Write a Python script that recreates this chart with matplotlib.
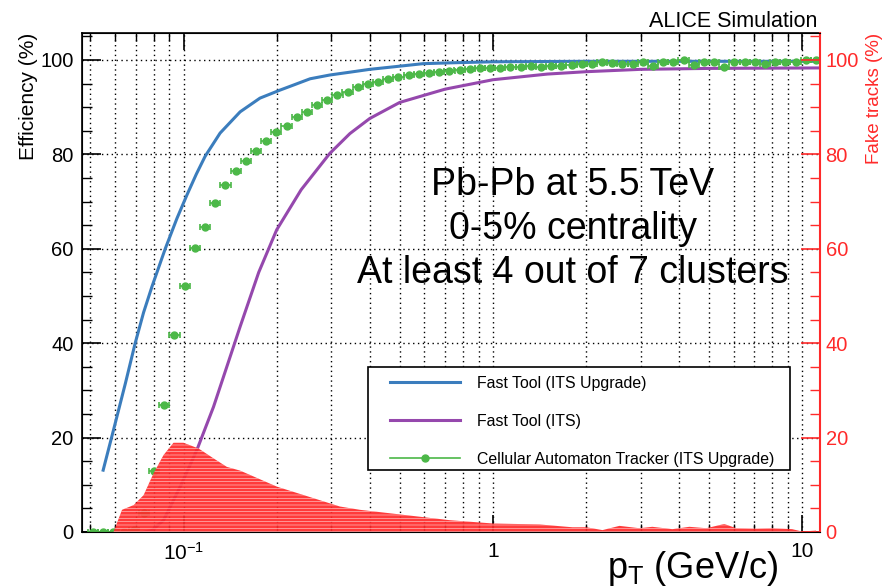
import numpy as np
import matplotlib.pyplot as plt
from matplotlib.lines import Line2D
from matplotlib.patches import Rectangle

plt.rcParams['font.family'] = ['Liberation Sans', 'DejaVu Sans']
plt.rcParams['mathtext.fontset'] = 'custom'
plt.rcParams['mathtext.rm'] = 'Liberation Sans'
plt.rcParams['mathtext.it'] = 'Liberation Sans:italic'
plt.rcParams['hatch.linewidth'] = 0.35
plt.rcParams['hatch.color'] = 'white'

# --- Cellular Automaton Tracker (ITS Upgrade) ---
ca_pt = [0.0510, 0.0550, 0.0594, 0.0640, 0.0691, 0.0745, 0.0804, 0.0867, 0.0935, 0.1009,
         0.1088, 0.1174, 0.1266, 0.1366, 0.1474, 0.1590, 0.1715, 0.1849, 0.1995, 0.2152,
         0.2321, 0.2504, 0.2701, 0.2913, 0.3143, 0.3390, 0.3657, 0.3945, 0.4255, 0.4590,
         0.4951, 0.5341, 0.5761, 0.6214, 0.6703, 0.7231, 0.7800, 0.8414, 0.9076, 0.9790,
         1.0561, 1.1392, 1.2288, 1.3255, 1.4298, 1.5423, 1.6637, 1.7947, 1.9359, 2.0883,
         2.2526, 2.4299, 2.6212, 2.8275, 3.0500, 3.2900, 3.5489, 3.8282, 4.1295, 4.4545,
         4.8051, 5.1833, 5.5912, 6.0313, 6.5060, 7.0180, 7.5703, 8.1661, 8.8088, 9.5021,
         10.25, 11.06]
ca_eff = [0.0, 0.0, 0.0, 0.0, 0.5, 4.0, 13.0, 26.9, 41.7, 52.1,
          60.1, 64.7, 69.6, 73.4, 76.5, 78.6, 80.6, 82.8, 84.7, 86.0,
          87.8, 89.0, 90.5, 91.5, 92.6, 93.3, 94.2, 94.8, 95.4, 95.9,
          96.3, 96.7, 97.0, 97.3, 97.5, 97.7, 97.9, 98.0, 98.2, 98.2,
          98.2, 98.4, 98.4, 98.7, 98.6, 98.7, 98.7, 98.9, 99.2, 99.2,
          99.5, 99.3, 99.2, 99.2, 99.5, 98.7, 99.5, 99.5, 99.9, 98.9,
          99.5, 99.5, 98.4, 99.5, 99.5, 99.5, 99.2, 99.5, 99.5, 99.6,
          99.9, 99.9]

# --- Fast Tool (ITS Upgrade) ---
fu_pt = [0.055, 0.0594, 0.0649, 0.0698, 0.0743, 0.0791, 0.0873, 0.0952, 0.1026, 0.11,
         0.1175, 0.1313, 0.1524, 0.1766, 0.205, 0.221, 0.2565, 0.297, 0.345, 0.40,
         0.488, 0.594, 0.75, 1.0, 2.0, 5.0, 11.4]
fu_eff = [13.1, 21.6, 31.5, 40.0, 46.5, 52.0, 60.0, 66.4, 71.4, 75.8,
          79.6, 84.5, 89.0, 91.9, 93.6, 94.4, 96.0, 96.8, 97.4, 98.0,
          98.6, 99.2, 99.4, 99.6, 99.7, 99.7, 99.7]

# --- Fast Tool (ITS) ---
fi_pt = [0.075, 0.079, 0.0862, 0.0976, 0.1105, 0.125, 0.1524, 0.175, 0.2, 0.24,
         0.297, 0.345, 0.40, 0.5, 0.7, 1.0, 1.5, 2.0, 3.0, 5.0, 11.4]
fi_eff = [0.0, 0.3, 2.5, 9.6, 17.4, 26.5, 43.5, 55.0, 64.0, 72.5,
          80.2, 84.4, 87.6, 91.0, 93.8, 95.8, 97.0, 97.5, 98.0, 98.2, 98.3]

# --- Fake tracks (%) ---
fake_pt = [0.0594, 0.0633, 0.0690, 0.0743, 0.0800, 0.0862, 0.0928, 0.1, 0.1118, 0.125,
           0.138, 0.1524, 0.2005, 0.320, 0.3715, 0.725, 1.0, 1.414, 1.807, 2.006,
           2.259, 2.563, 2.973, 3.274, 3.800, 4.311, 4.891, 5.590, 6.112, 7.090,
           7.987, 9.265, 9.98, 11.07]
fake_frac = [0.0, 4.7, 5.7, 7.8, 12.4, 16.3, 18.9, 18.9, 17.7, 15.6,
             13.8, 13.0, 9.6, 5.4, 4.7, 2.5, 1.8, 1.6, 1.0, 1.0,
             0.4, 1.3, 0.8, 1.1, 0.6, 1.1, 0.8, 1.7, 0.8, 0.7,
             0.8, 0.6, 0.1, 0.3]

BLUE = '#3b7dbd'
PURPLE = '#9548ad'
GREEN = '#4cb848'
RED = '#ff2a2a'

fig = plt.figure(figsize=(8.83, 5.87), dpi=100)
ax = fig.add_axes([0.0929, 0.0937, 0.8358, 0.8501])
ax2 = ax.twinx()

ax.set_xscale('log')
ax.set_xlim(0.047, 11.4)
ax.set_ylim(0, 105.7)
ax2.set_ylim(0, 105.7)

ax.plot(fu_pt, fu_eff, color=BLUE, lw=2.2, zorder=3)
ax.plot(fi_pt, fi_eff, color=PURPLE, lw=2.2, zorder=3)

ca_pt_a = np.array(ca_pt)
half = 0.0165
xerr = [ca_pt_a * (1 - 10 ** -half), ca_pt_a * (10 ** half - 1)]
ax.errorbar(ca_pt, ca_eff, xerr=xerr, fmt='o', color=GREEN, ms=5,
            elinewidth=1.2, capsize=2.5, capthick=1.2, zorder=4)

ax2.fill_between(fake_pt, 0, fake_frac, facecolor=RED, alpha=0.92, lw=0,
                 hatch='-----', edgecolor='white')

# grid
ax.grid(True, which='both', axis='x', color='black', linestyle=(0, (1, 2.5)), lw=1.0)
ax.grid(True, which='major', axis='y', color='black', linestyle=(0, (1, 2.5)), lw=1.0)

# ticks
ax.set_xticks([0.1, 1, 10], labels=['$\\mathregular{10^{-1}}$', '1', '10'])
ax.set_yticks(np.arange(0, 101, 20))
ax.set_yticks(np.arange(0, 106, 5), minor=True)
ax.tick_params(axis='x', which='major', direction='in', length=12, width=1.2,
               top=True, labelsize=15, pad=7)
ax.tick_params(axis='x', which='minor', direction='in', length=6, width=1.0, top=True)
ax.tick_params(axis='y', which='major', direction='in', length=14, width=1.2,
               right=False, labelsize=14.5, pad=6)
ax.tick_params(axis='y', which='minor', direction='in', length=7, width=1.0, right=False)

ax2.set_yticks(np.arange(0, 101, 20))
ax2.set_yticks(np.arange(0, 106, 5), minor=True)
ax2.tick_params(axis='y', which='major', direction='in', length=14, width=1.2,
                colors=RED, labelsize=14.5, pad=4)
ax2.tick_params(axis='y', which='minor', direction='in', length=7, width=1.0, colors=RED)
ax2.spines['right'].set_color(RED)
ax2.spines['right'].set_linewidth(1.5)
for s in ['left', 'top', 'bottom']:
    ax.spines[s].set_linewidth(1.2)
ax.spines['right'].set_visible(False)

# labels
ax.set_ylabel('Efficiency (%)', loc='top', fontsize=15)
ax.yaxis.set_label_coords(-0.06, 1.0)
ax2.set_ylabel('Fake tracks (%)', loc='top', fontsize=13.5, color=RED)
ax2.yaxis.set_label_coords(1.062, 1.0)
xl = ax.set_xlabel('p$_\\mathregular{T}$ (GeV/c)', loc='right', fontsize=26)
ax.xaxis.set_label_coords(0.943, -0.074)
xl.set_va('center')

fig.text(0.926, 0.964, 'ALICE Simulation', ha='right', va='center', fontsize=15.5)

ax2.text(0.665, 0.607, 'Pb-Pb at 5.5 TeV\n0-5% centrality\nAt least 4 out of 7 clusters',
         transform=ax.transAxes, ha='center', va='center', fontsize=27, linespacing=1.3)

# legend: frame drawn separately, entries placed inside it
fig.patches.append(Rectangle((0.4168, 0.1993), 0.478, 0.1755, transform=fig.transFigure,
                             facecolor='white', edgecolor='black', lw=1.2, zorder=5))
handles = [
    Line2D([], [], color=BLUE, lw=2.2),
    Line2D([], [], color=PURPLE, lw=2.2),
    Line2D([], [], color=GREEN, lw=1.2, marker='o', ms=5),
]
labels = ['Fast Tool (ITS Upgrade)', 'Fast Tool (ITS)',
          'Cellular Automaton Tracker (ITS Upgrade)']
leg = fig.legend(handles, labels, loc='upper left',
                 bbox_to_anchor=(0.4417, 0.3600), bbox_transform=fig.transFigure,
                 borderaxespad=0, borderpad=0, frameon=False,
                 fontsize=11.4, handlelength=4.43, handletextpad=1.08,
                 labelspacing=1.45)
leg.set_zorder(6)

plt.savefig('out.png', dpi=100)
